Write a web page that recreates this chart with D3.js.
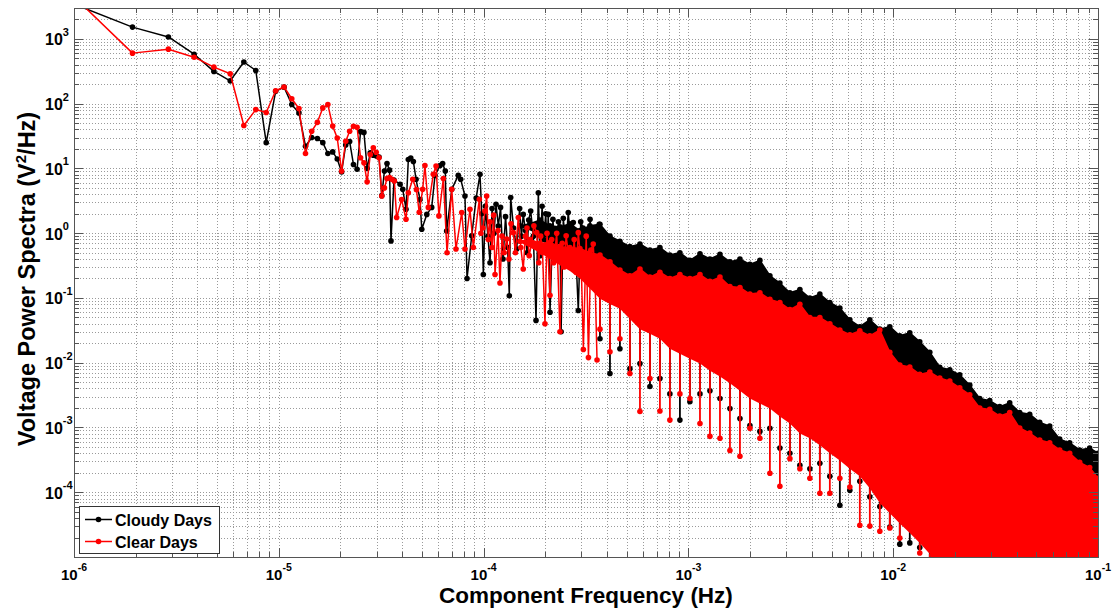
<!DOCTYPE html>
<html>
<head>
<meta charset="utf-8">
<script src="https://cdn.jsdelivr.net/npm/d3@7"></script>
<style>
  body { margin: 0; background: #fff; }
  svg { display: block; font-family: "Liberation Sans", Arial, Helvetica, sans-serif; }
</style>
</head>
<body>
<div id="vis"></div>
<script>
// ---- Data ----
// Low-frequency part: individual spectral lines (Hz, V^2/Hz)
const cloudyFreq = [
  0.965e-6, 1.93e-6, 2.89e-6, 3.86e-6, 4.82e-6, 5.79e-6, 6.75e-6, 7.72e-6, 8.68e-6, 9.65e-6,
  1.061e-5, 1.157e-5, 1.254e-5, 1.350e-5, 1.447e-5, 1.543e-5, 1.640e-5, 1.736e-5, 1.833e-5, 1.929e-5,
  2.026e-5, 2.122e-5, 2.218e-5, 2.315e-5, 2.411e-5, 2.508e-5, 2.604e-5, 2.700e-5, 2.797e-5, 2.894e-5,
  2.990e-5, 3.086e-5, 3.183e-5, 3.279e-5, 3.376e-5, 3.472e-5, 3.53e-5, 3.65e-5, 3.91e-5, 4.03e-5,
  4.18e-5, 4.29e-5, 4.41e-5, 4.54e-5, 4.68e-5, 4.89e-5, 4.99e-5, 5.28e-5, 5.58e-5, 5.79e-5,
  6.13e-5, 6.31e-5, 6.50e-5, 6.60e-5, 6.99e-5, 7.52e-5, 7.73e-5, 8.11e-5, 8.30e-5, 8.75e-5,
  9.20e-5, 9.60e-5, 9.80e-5, 9.97e-5, 1.02e-4, 1.05e-4, 1.075e-4, 1.10e-4, 1.124e-4, 1.15e-4,
  1.18e-4, 1.21e-4, 1.244e-4, 1.28e-4, 1.31e-4, 1.335e-4, 1.356e-4, 1.40e-4, 1.451e-4, 1.50e-4,
  1.53e-4, 1.562e-4, 1.60e-4, 1.629e-4, 1.66e-4, 1.698e-4, 1.75e-4, 1.803e-4, 1.85e-4, 1.886e-4,
  1.93e-4, 1.97e-4, 2.01e-4, 2.04e-4, 2.07e-4, 2.11e-4, 2.18e-4, 2.22e-4, 2.28e-4, 2.32e-4,
  2.36e-4, 2.39e-4, 2.45e-4, 2.52e-4, 2.59e-4, 2.66e-4, 2.74e-4, 2.82e-4, 2.90e-4, 2.98e-4,
  3.06e-4, 3.12e-4, 3.19e-4, 3.25e-4, 3.31e-4, 3.40e-4, 3.50e-4, 3.58e-4, 3.67e-4
];
const cloudyPower = [
  3600, 1520, 1070, 580, 315, 225, 440, 325, 25, 155,
  180, 97, 72, 22, 30, 29, 25, 17, 18, 14,
  8.8, 23, 26, 11.5, 9.7, 37, 36, 10, 17.4, 16,
  15.5, 15, 3.8, 9.1, 11.9, 9.4, 0.76, 6.6, 5.7, 4.75,
  2.34, 13.7, 14.5, 12.8, 6.8, 3.3, 1.15, 1.95, 2.5, 7.8,
  11.1, 11.9, 9.1, 1.08, 4.75, 7.8, 6.8, 3.75, 0.2, 0.91,
  3.5, 8.1, 2.0, 0.23, 2.6, 0.9, 0.35, 2.4, 1.0, 2.8,
  1.29, 2.5, 0.4, 1.8, 0.6, 0.108, 3.55, 1.2, 0.57, 2.4,
  0.9, 1.95, 1.1, 0.5, 1.6, 2.2, 0.9, 0.045, 4.2, 0.45,
  2.6, 0.8, 2.0, 0.7, 1.95, 0.06, 1.64, 0.7, 0.5, 1.5,
  1.15, 0.03, 1.7, 0.6, 2.08, 0.8, 1.46, 0.5, 0.064, 1.5,
  1.2, 0.4, 0.91, 0.35, 1.64, 0.6, 0.3, 1.1, 1.37
];
const clearFreq = [
  0.965e-6, 1.93e-6, 2.89e-6, 3.86e-6, 4.82e-6, 5.79e-6, 6.75e-6, 7.72e-6, 8.68e-6, 9.65e-6,
  1.061e-5, 1.157e-5, 1.254e-5, 1.350e-5, 1.447e-5, 1.543e-5, 1.640e-5, 1.736e-5, 1.833e-5, 1.929e-5,
  2.026e-5, 2.122e-5, 2.218e-5, 2.315e-5, 2.411e-5, 2.508e-5, 2.604e-5, 2.700e-5, 2.797e-5, 2.894e-5,
  2.990e-5, 3.086e-5, 3.183e-5, 3.279e-5, 3.376e-5, 3.472e-5, 3.569e-5, 3.665e-5, 3.762e-5, 3.98e-5,
  4.18e-5, 4.29e-5, 4.51e-5, 4.70e-5, 4.85e-5, 5.04e-5, 5.17e-5, 5.37e-5, 5.68e-5, 5.86e-5,
  6.05e-5, 6.36e-5, 6.63e-5, 6.99e-5, 7.33e-5, 7.82e-5, 8.11e-5, 8.58e-5, 8.91e-5, 9.53e-5,
  9.70e-5, 9.93e-5, 1.015e-4, 1.035e-4, 1.055e-4, 1.075e-4, 1.10e-4, 1.12e-4, 1.137e-4, 1.176e-4,
  1.202e-4, 1.23e-4, 1.26e-4, 1.297e-4, 1.33e-4, 1.36e-4, 1.396e-4, 1.43e-4, 1.477e-4, 1.52e-4,
  1.562e-4, 1.60e-4, 1.629e-4, 1.67e-4, 1.718e-4, 1.76e-4, 1.817e-4, 1.86e-4, 1.90e-4, 1.94e-4,
  1.994e-4, 2.04e-4, 2.11e-4, 2.15e-4, 2.20e-4, 2.275e-4, 2.36e-4, 2.42e-4, 2.47e-4, 2.53e-4,
  2.61e-4, 2.70e-4, 2.77e-4, 2.83e-4, 2.90e-4, 3.00e-4, 3.07e-4, 3.17e-4, 3.25e-4, 3.34e-4,
  3.43e-4, 3.50e-4, 3.58e-4
];
const clearPower = [
  5000, 603, 694, 522, 367, 290, 46, 81, 73, 158,
  181, 119, 84, 17, 37.5, 51.5, 86, 97, 45, 29.5,
  9.1, 26.3, 37.5, 44.7, 43.2, 14.6, 12.2, 6.2, 16.4, 20.8,
  17.8, 14.6, 3.75, 5.0, 7.0, 7.2, 6.8, 6.4, 1.75, 3.3,
  1.64, 4.2, 6.8, 4.7, 2.1, 4.75, 11.1, 2.5, 8.1, 10.9,
  1.85, 7.0, 0.5, 4.75, 0.57, 2.08, 0.57, 2.34, 0.6, 3.33,
  1.0, 1.2, 2.2, 3.75, 0.8, 1.5, 0.6, 1.9, 0.23, 1.1,
  0.17, 0.9, 0.5, 0.81, 0.4, 1.4, 1.02, 0.5, 1.75, 0.6,
  0.28, 0.9, 1.2, 0.45, 0.72, 1.3, 1.02, 0.35, 0.9, 0.5,
  0.04, 1.0, 0.11, 0.8, 0.35, 1.0, 0.03, 0.7, 0.3, 0.91,
  0.4, 0.3, 0.8, 0.25, 1.02, 0.3, 0.016, 0.9, 0.012, 0.55,
  0.68, 0.2, 0.011
];

// High-frequency part: the lines are too dense to resolve, so keep the band
// they fill: upper edge, lower edge of the solid part, and the deepest dips
const bandFreq = [
  1.505e-4, 1.684e-4, 1.884e-4, 2.108e-4, 2.359e-4, 2.639e-4, 2.953e-4, 3.304e-4,
  3.70e-4, 4.14e-4, 4.63e-4, 5.18e-4, 5.80e-4, 6.49e-4, 7.26e-4, 8.12e-4, 9.09e-4, 1.017e-3,
  1.139e-3, 1.274e-3, 1.426e-3, 1.595e-3, 1.785e-3, 1.997e-3, 2.234e-3, 2.500e-3, 2.797e-3, 3.130e-3,
  3.502e-3, 3.918e-3, 4.384e-3, 4.905e-3, 5.489e-3, 6.141e-3, 6.871e-3, 7.689e-3, 8.603e-3, 9.626e-3,
  1.077e-2, 1.205e-2, 1.348e-2, 1.509e-2, 1.688e-2, 1.889e-2, 2.113e-2, 2.365e-2, 2.646e-2, 2.960e-2,
  3.312e-2, 3.706e-2, 4.147e-2, 4.640e-2, 5.192e-2, 5.809e-2, 6.500e-2, 7.273e-2, 8.138e-2, 9.106e-2,
  1.0e-1
];
const cloudyBandTop = [
  1.3, 1.4, 1.6, 1.3, 1.25, 1.4, 1.1, 1.3,
  1.37, 0.9, 0.75, 0.62, 0.68, 0.55, 0.60, 0.46, 0.50, 0.38,
  0.48, 0.40, 0.47, 0.36, 0.40, 0.33, 0.38, 0.22, 0.17, 0.12,
  0.135, 0.10, 0.115, 0.085, 0.07, 0.046, 0.036, 0.046, 0.033, 0.036,
  0.026, 0.029, 0.021, 0.0145, 0.0085, 0.0078, 0.0065, 0.0045, 0.0028, 0.0026,
  0.0021, 0.0024, 0.0017, 0.0016, 0.0012, 0.00105, 0.00066, 0.00058, 0.00045, 0.00048,
  0.0004
];
const cloudyBandBase = [
  1.25, 1.1, 0.95, 0.8, 0.65, 0.55, 0.42, 0.28,
  0.128, 0.107, 0.09, 0.063, 0.044, 0.037, 0.031, 0.0218, 0.0183, 0.0153,
  0.0128, 0.01, 0.0081, 0.0063, 0.0049, 0.0037, 0.003, 0.0026, 0.00196, 0.0015,
  0.00107, 0.0009, 0.00069, 0.00053, 0.00041, 0.00031, 0.00023, 0.000153, 0.00009, 0.000063,
  0.000044, 0.00003, 0.000022, 0.0000148, 0.000005, 0.000005, 0.000005, 0.000005, 0.000005, 0.000005,
  0.000005, 0.000005, 0.000005, 0.000005, 0.000005, 0.000005, 0.000005, 0.000005, 0.000005, 0.000005,
  0.000005
];
const cloudyBandDip = [
  1.25, 1.1, 0.95, 0.8, 0.65, 0.55, 0.42, 0.28,
  0.0234, 0.0068, 0.0164, 0.0081, 0.0097, 0.0043, 0.0057, 0.0033, 0.0013, 0.0025,
  0.0033, 0.0037, 0.0028, 0.00196, 0.00137, 0.00107, 0.00087, 0.00097, 0.00048, 0.0004,
  0.00026, 0.00023, 0.00028, 0.000176, 0.000063, 0.000107, 0.000148, 0.000085, 0.00006, 0.000029,
  0.0000158, 0.0000165, 0.000014, 0.000005, 0.000005, 0.000005, 0.000005, 0.000005, 0.000005, 0.000005,
  0.000005, 0.000005, 0.000005, 0.000005, 0.000005, 0.000005, 0.000005, 0.000005, 0.000005, 0.000005,
  0.000005
];
const clearBandTop = [
  0.75, 0.8, 0.7, 0.72, 0.62, 0.6, 0.58, 0.5,
  0.46, 0.36, 0.27, 0.22, 0.28, 0.21, 0.25, 0.20, 0.23, 0.20,
  0.23, 0.18, 0.21, 0.15, 0.145, 0.115, 0.12, 0.095, 0.085, 0.066,
  0.08, 0.05, 0.05, 0.040, 0.032, 0.027, 0.031, 0.026, 0.032, 0.0145,
  0.0092, 0.0086, 0.0066, 0.0072, 0.0058, 0.0052, 0.0041, 0.0032, 0.0020, 0.0019,
  0.0015, 0.0017, 0.00098, 0.00082, 0.00064, 0.00058, 0.00045, 0.0004, 0.00029, 0.00024,
  0.000164
];
const clearBandBase = [
  0.72, 0.6, 0.5, 0.4, 0.32, 0.26, 0.2, 0.14,
  0.097, 0.081, 0.068, 0.0475, 0.033, 0.028, 0.0234, 0.0164, 0.0137, 0.0115,
  0.0097, 0.0075, 0.0061, 0.0048, 0.0037, 0.0028, 0.00234, 0.00196, 0.00148, 0.00115,
  0.00081, 0.00068, 0.00053, 0.0004, 0.00031, 0.00023, 0.000176, 0.000115, 0.000068, 0.0000475,
  0.000033, 0.0000234, 0.0000164, 0.0000111, 0.000005, 0.000005, 0.000005, 0.000005, 0.000005, 0.000005,
  0.000005, 0.000005, 0.000005, 0.000005, 0.000005, 0.000005, 0.000005, 0.000005, 0.000005, 0.000005,
  0.000005
];
const clearBandDip = [
  0.72, 0.6, 0.5, 0.4, 0.32, 0.26, 0.2, 0.14,
  0.033, 0.0148, 0.0234, 0.0068, 0.00176, 0.0057, 0.0018, 0.0013, 0.0033, 0.0028,
  0.00115, 0.00073, 0.00068, 0.00044, 0.00036, 0.00097, 0.00068, 0.000196, 0.000124, 0.00033,
  0.00023, 0.000164, 0.0000966, 0.0000966, 0.000164, 0.00012, 0.000031, 0.00003, 0.000025, 0.000028,
  0.0000196, 0.0000358, 0.0000115, 0.000005, 0.000005, 0.000005, 0.000005, 0.000005, 0.000005, 0.000005,
  0.000005, 0.000005, 0.000005, 0.000005, 0.000005, 0.000005, 0.000005, 0.000005, 0.000005, 0.000005,
  0.000005
];

const seriesNames = ["Cloudy Days", "Clear Days"];
const seriesColors = ["#000000", "#ff0000"];
const xTickExps = [-6, -5, -4, -3, -2, -1];
const yTickExps = [-4, -3, -2, -1, 0, 1, 2, 3];

// ---- Layout ----
const width = 1112;
const height = 610;
const margin = { top: 8, right: 14, bottom: 53, left: 74 };
const plotL = margin.left, plotR = width - margin.right;
const plotT = margin.top, plotB = height - margin.bottom;

const svg = d3.select("#vis")
  .append("svg")
  .attr("width", width)
  .attr("height", height);

const x = d3.scaleLog().domain([1e-6, 1e-1]).range([plotL, plotR]);
const y = d3.scaleLog().domain([1e-5, 3e3]).range([plotB, plotT]);

const isMajor = v => Math.abs(Math.log10(v) - Math.round(Math.log10(v))) < 1e-6;

// Grid (dotted, minor and major)
const grid = svg.append("g").attr("stroke", "#9a9a9a").attr("stroke-width", 1)
  .attr("stroke-dasharray", "1,2").attr("fill", "none");
x.ticks().forEach(t => {
  const px = Math.round(x(t)) + 0.5;
  if (px <= plotL + 1 || px >= plotR - 1) return;
  grid.append("line").attr("x1", px).attr("x2", px).attr("y1", plotT).attr("y2", plotB);
});
y.ticks().forEach(t => {
  const py = Math.round(y(t)) + 0.5;
  if (py <= plotT + 1 || py >= plotB - 1) return;
  grid.append("line").attr("x1", plotL).attr("x2", plotR).attr("y1", py).attr("y2", py);
});

// Clip for data
svg.append("defs").append("clipPath").attr("id", "plotClip")
  .append("rect").attr("x", plotL).attr("y", plotT)
  .attr("width", plotR - plotL).attr("height", plotB - plotT);

const dataLayer = svg.append("g").attr("clip-path", "url(#plotClip)");

function drawSeries(freq, power, top, base, dip, color) {
  const g = dataLayer.append("g");
  const band = bandFreq.map((f, i) => ({ f, top: top[i], base: base[i], dip: dip[i] }));

  // solid part of the band
  g.append("path")
    .datum(band)
    .attr("fill", color)
    .attr("d", d3.area().x(d => x(d.f)).y0(d => y(d.base)).y1(d => y(d.top)));

  // upper edge
  g.append("path")
    .datum(band)
    .attr("fill", "none")
    .attr("stroke", color)
    .attr("stroke-width", 1.5)
    .attr("d", d3.line().x(d => x(d.f)).y(d => y(d.top)));

  g.selectAll("circle.top")
    .data(band)
    .enter().append("circle")
    .attr("class", "top")
    .attr("cx", d => x(d.f)).attr("cy", d => y(d.top))
    .attr("r", 2.8).attr("fill", color);

  // deep dips below the solid part
  const dips = band.filter(d => d.dip < d.base * 0.9);
  g.selectAll("line.dip")
    .data(dips)
    .enter().append("line")
    .attr("class", "dip")
    .attr("x1", d => x(d.f)).attr("x2", d => x(d.f))
    .attr("y1", d => y(d.base)).attr("y2", d => y(d.dip))
    .attr("stroke", color).attr("stroke-width", 1.8);
  g.selectAll("circle.dip")
    .data(dips)
    .enter().append("circle")
    .attr("class", "dip")
    .attr("cx", d => x(d.f)).attr("cy", d => y(d.dip))
    .attr("r", 2.8).attr("fill", color);

  // resolved low-frequency lines
  const pts = freq.map((f, i) => ({ f, p: power[i] }));
  g.append("path")
    .datum(pts)
    .attr("fill", "none")
    .attr("stroke", color)
    .attr("stroke-width", 1.5)
    .attr("stroke-linejoin", "round")
    .attr("d", d3.line().x(d => x(d.f)).y(d => y(d.p)));
  g.selectAll("circle.pt")
    .data(pts)
    .enter().append("circle")
    .attr("class", "pt")
    .attr("cx", d => x(d.f)).attr("cy", d => y(d.p))
    .attr("r", 2.8).attr("fill", color);
}

drawSeries(cloudyFreq, cloudyPower, cloudyBandTop, cloudyBandBase, cloudyBandDip, seriesColors[0]);
drawSeries(clearFreq, clearPower, clearBandTop, clearBandBase, clearBandDip, seriesColors[1]);

// Ticks on all four sides, pointing in
const ticks = svg.append("g").attr("stroke", "#555").attr("stroke-width", 1);
x.ticks().forEach(t => {
  const px = Math.round(x(t)) + 0.5;
  const len = isMajor(t) ? 9 : 5;
  ticks.append("line").attr("x1", px).attr("x2", px).attr("y1", plotB).attr("y2", plotB - len);
  ticks.append("line").attr("x1", px).attr("x2", px).attr("y1", plotT).attr("y2", plotT + len);
});
y.ticks().forEach(t => {
  const py = Math.round(y(t)) + 0.5;
  const len = isMajor(t) ? 9 : 5;
  ticks.append("line").attr("x1", plotL).attr("x2", plotL + len).attr("y1", py).attr("y2", py);
  ticks.append("line").attr("x1", plotR).attr("x2", plotR - len).attr("y1", py).attr("y2", py);
});

// Axes box
svg.append("rect")
  .attr("x", plotL + 0.5).attr("y", plotT + 0.5)
  .attr("width", plotR - plotL).attr("height", plotB - plotT)
  .attr("fill", "none").attr("stroke", "#555").attr("stroke-width", 1);

// Tick labels
xTickExps.forEach(e => {
  const t = svg.append("text")
    .attr("x", x(Math.pow(10, e)))
    .attr("y", 580)
    .attr("text-anchor", "middle")
    .attr("font-size", "15px")
    .attr("font-weight", "bold")
    .attr("fill", "#000");
  t.append("tspan").text("10");
  t.append("tspan").attr("dy", -9).attr("font-size", "10.5px").text(String(e));
});
yTickExps.forEach(e => {
  const py = y(Math.pow(10, e));
  const t = svg.append("text")
    .attr("x", 45)
    .attr("y", py + 6.5)
    .attr("font-size", "16px")
    .attr("font-weight", "bold")
    .attr("fill", "#000");
  t.append("tspan").text("10");
  t.append("tspan").attr("dy", -9.5).attr("font-size", "11px").text(String(e));
});

// Axis titles
svg.append("text")
  .attr("x", (plotL + plotR) / 2)
  .attr("y", 603)
  .attr("text-anchor", "middle")
  .attr("font-size", "22.5px")
  .attr("font-weight", "bold")
  .text("Component Frequency (Hz)");

const yTitle = svg.append("text")
  .attr("transform", "translate(35,279) rotate(-90)")
  .attr("text-anchor", "middle")
  .attr("font-size", "23.5px")
  .attr("font-weight", "bold");
yTitle.append("tspan").text("Voltage Power Spectra (V");
yTitle.append("tspan").attr("dy", -9).attr("font-size", "15px").text("2");
yTitle.append("tspan").attr("dy", 9).text("/Hz)");

// Legend
const legend = svg.append("g").attr("transform", "translate(79,506)");
legend.append("rect")
  .attr("x", 0.5).attr("y", 0.5).attr("width", 140).attr("height", 47)
  .attr("fill", "#fff").attr("stroke", "#333").attr("stroke-width", 1);
seriesNames.forEach((name, i) => {
  const ly = 13.5 + i * 22;
  legend.append("line")
    .attr("x1", 6).attr("x2", 33).attr("y1", ly).attr("y2", ly)
    .attr("stroke", seriesColors[i]).attr("stroke-width", 1.5);
  legend.append("circle")
    .attr("cx", 19.5).attr("cy", ly).attr("r", 2.8).attr("fill", seriesColors[i]);
  legend.append("text")
    .attr("x", 36).attr("y", ly + 6)
    .attr("font-size", "16px").attr("font-weight", "bold")
    .text(name);
});
</script>
</body>
</html>
